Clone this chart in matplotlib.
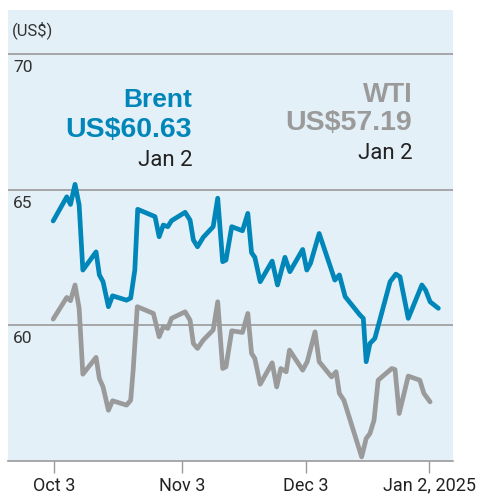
import numpy as np
import matplotlib.pyplot as plt

plt.rcParams['font.family'] = ['Roboto', 'DejaVu Sans']

# days since Oct 3, 2024 and price (US$)
brent_days = [-0.2, 3.1, 4.0, 5.1, 6.1, 7.0, 10.2, 11.0, 11.9, 13.2, 14.2, 17.6, 18.6, 19.6,
              20.3, 24.5, 25.5, 26.5, 27.6, 28.5, 31.8, 33.0, 33.8, 34.8, 36.2, 38.6, 39.7,
              40.9, 41.7, 43.1, 45.7, 47.0, 47.9, 48.7, 50.0, 52.9, 54.2, 56.0, 57.2, 60.3,
              61.3, 62.2, 64.3, 68.1, 69.2, 70.6, 74.2, 75.0, 75.7, 76.6, 77.8, 81.5, 82.9,
              83.9, 85.9, 89.2, 90.1, 91.2, 93.2]
brent = [63.84, 64.73, 64.45, 65.19, 64.43, 62.03, 62.70, 61.85, 61.60, 60.68, 61.08, 60.92,
         61.00, 62.03, 64.27, 64.00, 63.26, 63.69, 63.63, 63.85, 64.16, 63.87, 63.14, 62.89,
         63.24, 63.63, 64.68, 62.34, 62.40, 63.63, 63.48, 64.12, 62.67, 62.50, 61.60, 62.36,
         61.48, 62.50, 61.97, 62.79, 62.03, 62.28, 63.38, 61.66, 61.85, 61.05, 60.37, 60.25,
         58.65, 59.32, 59.51, 61.60, 61.88, 61.78, 60.25, 61.48, 61.29, 60.86, 60.62]

wti_days = [-0.2, 3.1, 4.0, 5.1, 6.1, 7.0, 10.2, 11.0, 11.9, 13.2, 14.2, 17.6, 18.6, 19.2,
            20.2, 24.1, 25.5, 26.5, 27.6, 28.5, 31.8, 33.0, 33.8, 34.8, 36.2, 38.6, 39.7,
            40.9, 41.7, 43.1, 45.7, 47.0, 47.9, 48.7, 50.0, 52.9, 54.0, 55.0, 56.3, 57.1,
            60.3, 61.4, 63.3, 64.3, 67.3, 68.4, 69.2, 70.3, 74.6, 75.7, 76.6, 77.6, 78.6,
            81.9, 82.7, 83.7, 85.9, 88.7, 89.7, 91.2]
wti = [60.22, 61.02, 60.90, 61.48, 60.62, 58.19, 58.81, 58.03, 57.72, 56.86, 57.21, 57.05,
       57.23, 58.34, 60.68, 60.43, 59.57, 59.94, 59.88, 60.25, 60.49, 60.18, 59.32, 59.14,
       59.45, 59.82, 60.86, 58.40, 58.46, 59.79, 59.73, 60.43, 58.96, 58.77, 57.82, 58.61,
       57.72, 58.40, 58.28, 59.08, 58.34, 58.65, 59.75, 58.65, 58.09, 58.28, 57.48, 57.23,
       55.14, 55.82, 56.00, 56.49, 57.97, 58.40, 58.36, 56.74, 58.12, 57.97, 57.48, 57.17]

tick_days = [0, 31, 61, 91]
tick_labels = ['Oct 3', 'Nov 3', 'Dec 3', 'Jan 2, 2025']
y_grid = [60, 65, 70]

blue = '#0086b9'
grey = '#9a9a9a'
bold_font = ['Liberation Sans', 'DejaVu Sans']

fig = plt.figure(figsize=(4.83, 4.94), dpi=100)
ax = fig.add_axes([8 / 483, 1 - 460.7 / 494, 445 / 483, 450.7 / 494])
ax.set_facecolor('#e3f0f8')

for v in y_grid:
    ax.axhline(v, color='#9a9a9a', lw=1.2, zorder=1)
    ax.annotate(str(v), xy=(0.011, v), xycoords=('axes fraction', 'data'),
                xytext=(0, -4.5), textcoords='offset points', va='top', ha='left',
                fontsize=12.5, color='#333333')

ax.plot(wti_days, wti, color=grey, lw=3.4, solid_joinstyle='round', solid_capstyle='round', zorder=3)
ax.plot(brent_days, brent, color=blue, lw=3.4, solid_joinstyle='round', solid_capstyle='round', zorder=4)

ax.set_xlim(-11.15, 96.75)
ax.set_ylim(55, 71.62)
ax.set_yticks([])
ax.set_xticks(tick_days)
ax.set_xticklabels(tick_labels)
ax.tick_params(axis='x', length=8.6, width=1, color='#9a9a9a', labelsize=13,
               labelcolor='#222222', pad=3)
for s in ['top', 'left', 'right']:
    ax.spines[s].set_visible(False)
ax.spines['bottom'].set_color('#9a9a9a')
ax.spines['bottom'].set_linewidth(1.2)

ax.text(0.009, 0.955, '(US$)', transform=ax.transAxes, fontsize=12, color='#333333',
        va='center', ha='left')

# end-value labels
ax.text(0.414, 0.785, 'Brent', transform=ax.transAxes, fontsize=19, fontweight='bold',
        family=bold_font, color=blue, ha='right', va='baseline')
ax.text(0.414, 0.718, 'US$60.63', transform=ax.transAxes, fontsize=20.5, fontweight='bold',
        family=bold_font, color=blue, ha='right', va='baseline')
ax.text(0.414, 0.653, 'Jan 2', transform=ax.transAxes, fontsize=16, color='#222222',
        ha='right', va='baseline')

ax.text(0.9086, 0.796, 'WTI', transform=ax.transAxes, fontsize=19.5, fontweight='bold',
        family=bold_font, color=grey, ha='right', va='baseline')
ax.text(0.9086, 0.733, 'US$57.19', transform=ax.transAxes, fontsize=20.5, fontweight='bold',
        family=bold_font, color=grey, ha='right', va='baseline')
ax.text(0.9086, 0.669, 'Jan 2', transform=ax.transAxes, fontsize=16, color='#222222',
        ha='right', va='baseline')

fig.savefig('out.png', dpi=100)
